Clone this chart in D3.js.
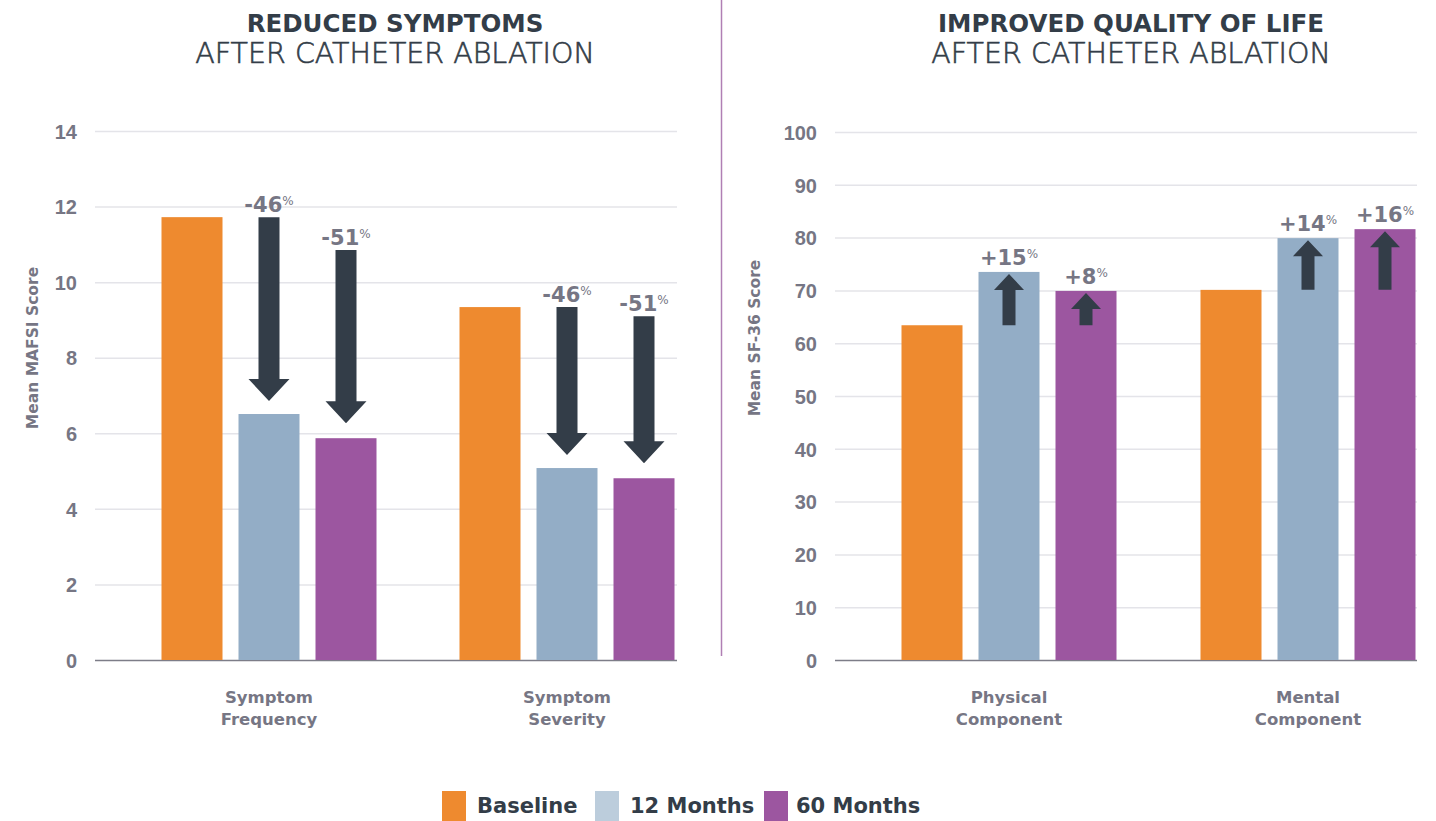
<!DOCTYPE html>
<html>
<head>
<meta charset="utf-8">
<script src="https://cdn.jsdelivr.net/npm/d3@7/dist/d3.min.js"></script>
<style>
  body { margin: 0; background: #fff; }
  svg { display: block; font-family: "DejaVu Sans", "Open Sans", sans-serif; }
  .grid line { stroke: #e4e4e9; stroke-width: 1.5; }
  .grid .domain { display: none; }
  .grid text { fill: #767684; font-size: 20px; font-weight: 700; }
</style>
</head>
<body>
<div id="chartArea"></div>
<script>
// Data
const periods = ['Baseline', '12 Months', '60 Months'];
const periodColors = ['#ee8a2f', '#93adc6', '#9c56a0'];
const legendColors = ['#ee8a2f', '#bccddc', '#9c56a0'];

// Left panel: MAFSI
const mafsiCategories = [['Symptom', 'Frequency'], ['Symptom', 'Severity']];
const mafsiBaseline = [11.72, 9.34];
const mafsi12 = [6.51, 5.08];
const mafsi60 = [5.87, 4.81];
const mafsiArrowTop12 = [11.72, 9.34];
const mafsiArrowTop60 = [10.85, 9.1];
const mafsiChange12 = ['-46', '-46'];
const mafsiChange60 = ['-51', '-51'];
const mafsiTicks = [0, 2, 4, 6, 8, 10, 12, 14];

// Right panel: SF-36
const sfCategories = [['Physical', 'Component'], ['Mental', 'Component']];
const sfBaseline = [63.4, 70.1];
const sf12 = [73.5, 79.9];
const sf60 = [69.9, 81.6];
const sfChange12 = ['+15', '+14'];
const sfChange60 = ['+8', '+16'];
const sfTicks = [0, 10, 20, 30, 40, 50, 60, 70, 80, 90, 100];

let width = 1436, height = 821;
let textDark = '#333d48', textGray = '#767684', arrowColor = '#333d48';

let svg = d3.select('#chartArea').append('svg')
    .attr('width', width)
    .attr('height', height);

// Inner scale for bars inside a group (relative to group centre)
let x1 = d3.scaleBand()
    .domain(periods)
    .range([-107.5, 107.5])
    .paddingInner(16 / 77);

function drawPanel(opts) {
    let y = d3.scaleLinear().domain(opts.domain).range([660, opts.top]);
    let x0 = d3.scaleBand()
        .domain(opts.categories.map(c => c.join(' ')))
        .range(opts.groupRange);

    // Grid + tick labels
    let axis = svg.append('g')
        .attr('class', 'grid')
        .attr('transform', 'translate(' + opts.gridLeft + ',0)')
        .call(d3.axisLeft(y)
            .tickValues(opts.ticks)
            .tickSize(-(opts.gridRight - opts.gridLeft))
            .tickPadding(18)
            .tickFormat(d3.format('d')));
    axis.selectAll('.tick text').attr('dy', '0.36em');
    axis.selectAll('.tick').filter(d => d === 0).select('line')
        .style('stroke', '#7d7d88');

    // Axis label
    svg.append('text')
        .attr('transform', 'translate(' + opts.labelX + ',' + opts.labelY + ') rotate(-90)')
        .attr('text-anchor', 'middle')
        .style('font-size', '15.5px')
        .style('font-weight', 700)
        .style('fill', textGray)
        .text(opts.yLabel);

    let series = [opts.base, opts.m12, opts.m60];
    opts.categories.forEach((cat, i) => {
        let cx = x0(cat.join(' ')) + x0.bandwidth() / 2;
        let g = svg.append('g');

        g.selectAll('rect')
            .data(periods)
            .enter().append('rect')
            .attr('x', p => cx + x1(p))
            .attr('width', x1.bandwidth())
            .attr('y', (p, k) => y(series[k][i]))
            .attr('height', (p, k) => y(0) - y(series[k][i]))
            .attr('fill', (p, k) => periodColors[k]);

        // Category label
        let t = svg.append('text')
            .attr('x', cx)
            .attr('y', 703)
            .attr('text-anchor', 'middle')
            .style('font-size', '16.5px')
            .style('font-weight', 700)
            .style('fill', textGray);
        t.append('tspan').attr('x', cx).text(cat[0]);
        t.append('tspan').attr('x', cx).attr('dy', 22).text(cat[1]);

        opts.arrows(g, y, cx, i);
    });
}

function addLabel(g, x, yBase, value) {
    let t = g.append('text')
        .attr('x', x)
        .attr('y', yBase)
        .attr('text-anchor', 'middle')
        .style('font-size', '21px')
        .style('font-weight', 700)
        .style('fill', textGray);
    t.append('tspan').text(value);
    t.append('tspan')
        .attr('dy', -7)
        .style('font-size', '12px')
        .style('font-weight', 400)
        .text('%');
}

function downArrow(g, x, yTop, yTip) {
    let sw = 10.5, hw = 20.5, hh = 22;
    let pts = [[x - sw, yTop], [x + sw, yTop], [x + sw, yTip - hh], [x + hw, yTip - hh],
        [x, yTip], [x - hw, yTip - hh], [x - sw, yTip - hh]];
    g.append('path').attr('d', d3.line()(pts) + 'Z').attr('fill', arrowColor);
}

function upArrow(g, x, yBottom, yTip) {
    let sw = 6.5, hw = 15, hh = 16;
    let pts = [[x - sw, yBottom], [x + sw, yBottom], [x + sw, yTip + hh], [x + hw, yTip + hh],
        [x, yTip], [x - hw, yTip + hh], [x - sw, yTip + hh]];
    g.append('path').attr('d', d3.line()(pts) + 'Z').attr('fill', arrowColor);
}

// Left panel
drawPanel({
    domain: [0, 14], top: 131, ticks: mafsiTicks,
    gridLeft: 95, gridRight: 677, groupRange: [120, 716],
    labelX: 38, labelY: 348, yLabel: 'Mean MAFSI Score',
    categories: mafsiCategories, base: mafsiBaseline, m12: mafsi12, m60: mafsi60,
    arrows: (g, y, cx, i) => {
        let xa = cx + x1('12 Months') + x1.bandwidth() / 2;
        let xb = cx + x1('60 Months') + x1.bandwidth() / 2;
        downArrow(g, xa, y(mafsiArrowTop12[i]), y(mafsi12[i]) - 13);
        downArrow(g, xb, y(mafsiArrowTop60[i]), y(mafsi60[i]) - 15);
        addLabel(g, xa, y(mafsiArrowTop12[i]) - 5, mafsiChange12[i]);
        addLabel(g, xb, y(mafsiArrowTop60[i]) - 5, mafsiChange60[i]);
    }
});

// Right panel
drawPanel({
    domain: [0, 100], top: 132, ticks: sfTicks,
    gridLeft: 835, gridRight: 1417, groupRange: [859.5, 1457.5],
    labelX: 760, labelY: 338, yLabel: 'Mean SF-36 Score',
    categories: sfCategories, base: sfBaseline, m12: sf12, m60: sf60,
    arrows: (g, y, cx, i) => {
        let xa = cx + x1('12 Months') + x1.bandwidth() / 2;
        let xb = cx + x1('60 Months') + x1.bandwidth() / 2;
        upArrow(g, xa, y(sfBaseline[i]), y(sf12[i]) + 2);
        upArrow(g, xb, y(sfBaseline[i]), y(sf60[i]) + 2);
        addLabel(g, xa, y(sf12[i]) - 7, sfChange12[i]);
        addLabel(g, xb, y(sf60[i]) - 7, sfChange60[i]);
    }
});

// Divider
svg.append('line')
    .attr('x1', 721.5).attr('x2', 721.5)
    .attr('y1', 0).attr('y2', 656)
    .style('stroke', '#b07fb4')
    .style('stroke-width', 1.5);

// Titles
[[395, 'REDUCED SYMPTOMS'], [1131, 'IMPROVED QUALITY OF LIFE']].forEach(d => {
    svg.append('text')
        .attr('x', d[0]).attr('y', 32)
        .attr('text-anchor', 'middle')
        .style('font-size', '24.5px')
        .style('font-weight', 700)
        .style('fill', textDark)
        .text(d[1]);
    svg.append('text')
        .attr('x', d[0]).attr('y', 63)
        .attr('text-anchor', 'middle')
        .style('font-size', '28.5px')
        .style('font-weight', 200)
        .style('fill', textDark)
        .style('stroke', textDark)
        .style('stroke-width', 0.6)
        .text('AFTER CATHETER ABLATION');
});

// Legend
let legendX = [442, 595, 764];
let legendTextX = [477, 630, 796];
let legend = svg.append('g');
periods.forEach((p, k) => {
    legend.append('rect')
        .attr('x', legendX[k]).attr('y', 791)
        .attr('width', 24).attr('height', 30)
        .attr('fill', legendColors[k]);
    legend.append('text')
        .attr('x', legendTextX[k]).attr('y', 813)
        .style('font-size', '21px')
        .style('font-weight', 700)
        .style('fill', textDark)
        .text(p);
});
</script>
</body>
</html>
